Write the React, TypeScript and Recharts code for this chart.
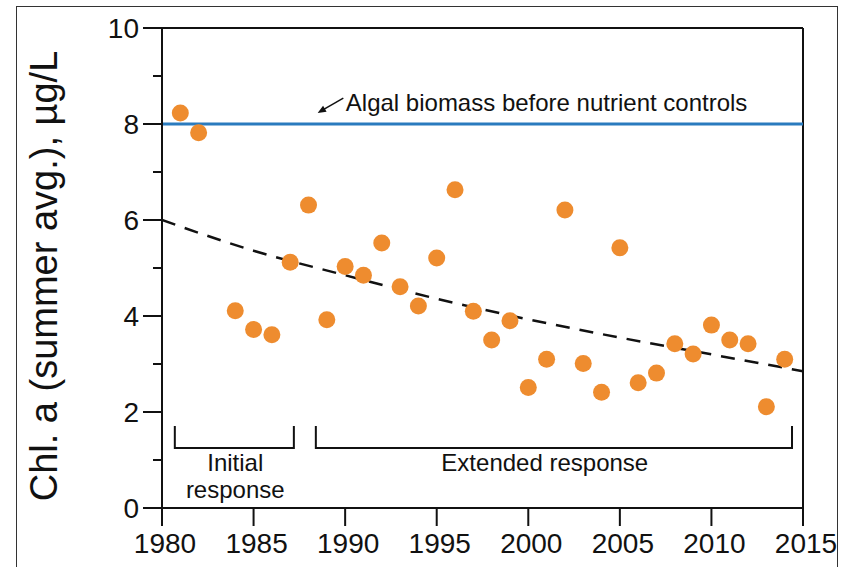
import {
  ComposedChart, Scatter, Line, XAxis, YAxis, ReferenceLine, ReferenceDot
} from 'recharts'

// summer average chlorophyll a
const years = [1981, 1982, 1984, 1985, 1986, 1987, 1988, 1989, 1990, 1991, 1992, 1993, 1994, 1995, 1996, 1997,
  1998, 1999, 2000, 2001, 2002, 2003, 2004, 2005, 2006, 2007, 2008, 2009, 2010, 2011, 2012, 2013, 2014]
const chl = [8.23, 7.82, 4.11, 3.72, 3.61, 5.12, 6.31, 3.92, 5.03, 4.85, 5.52, 4.61, 4.21, 5.21, 6.63, 4.1,
  3.5, 3.9, 2.51, 3.1, 6.21, 3.01, 2.41, 5.42, 2.61, 2.81, 3.42, 3.21, 3.81, 3.5, 3.42, 2.11, 3.1]

// trend curve (dashed)
const trendYears = [1980, 1985, 1990, 1995, 2000, 2005, 2010, 2015]
const trendVals = [6.0, 5.36, 4.85, 4.36, 3.93, 3.55, 3.2, 2.85]

const baseline = 8 // algal biomass before nutrient controls

const xTicks = [1980, 1985, 1990, 1995, 2000, 2005, 2010, 2015]
const yTicks = [0, 1, 2, 3, 4, 5, 6, 7, 8, 9, 10]

// brackets: [xStart, xEnd, yTop, yBottom]
const initialBracket = [1980.7, 1987.2, 1.71, 1.25]
const extendedBracket = [1988.4, 2014.4, 1.71, 1.25]

const points = years.map((y, i) => ({ year: y, chl: chl[i] }))
const trend = trendYears.map((y, i) => ({ year: y, chl: trendVals[i] }))
const bracketData = (b: number[]) => [
  { year: b[0], chl: b[2] }, { year: b[0], chl: b[3] },
  { year: b[1], chl: b[3] }, { year: b[1], chl: b[2] }
]

const FONT = 'Arial, "Liberation Sans", sans-serif'
const ORANGE = '#EE8C2F'
const BLUE = '#2A7BBE'

function YTick({ x, y, payload }: any) {
  const major = payload.value % 2 === 0
  return (
    <g>
      <line x1={x - (major ? 19 : 9)} x2={x} y1={y} y2={y} stroke="#111" strokeWidth={2} />
      {major && (
        <text x={x - 23} y={y} dy={10} textAnchor="end" fontSize={28} fontFamily={FONT} fill="#111">
          {payload.value}
        </text>
      )}
    </g>
  )
}

function XTick({ x, y, payload }: any) {
  return (
    <g>
      <line x1={x} x2={x} y1={y} y2={y + 18} stroke="#111" strokeWidth={2} />
      <text x={x + 3} y={y + 45} textAnchor="middle" fontSize={28} fontFamily={FONT} fill="#111">
        {payload.value}
      </text>
    </g>
  )
}

function Dot({ cx, cy }: any) {
  return <circle cx={cx} cy={cy} r={8.5} fill={ORANGE} />
}

function Arrow(p: any) {
  const { x1, y1, x2, y2 } = p
  const a = Math.atan2(y2 - y1, x2 - x1)
  const l = 9, w = 0.4
  const pts = [
    [x2, y2],
    [x2 - l * Math.cos(a - w), y2 - l * Math.sin(a - w)],
    [x2 - l * Math.cos(a + w), y2 - l * Math.sin(a + w)]
  ].map((q) => q.join(',')).join(' ')
  return (
    <g>
      <line x1={x1} y1={y1} x2={x2 - 5 * Math.cos(a)} y2={y2 - 5 * Math.sin(a)} stroke="#111" strokeWidth={1.5} />
      <polygon points={pts} fill="#111" />
    </g>
  )
}

const label = (text: string, size: number) => (p: any) => (
  <text x={p.cx} y={p.cy} dy={size * 0.36} textAnchor="middle" fontSize={size} fontFamily={FONT} fill="#111">
    {text}
  </text>
)

function YLabel(p: any) {
  const vb = p.viewBox
  const cx = vb.x + 31
  const cy = vb.y + vb.height / 2 + 8
  return (
    <text x={cx} y={cy} dy={13.5} transform={`rotate(-90 ${cx} ${cy})`} textAnchor="middle"
      fontSize={38} fontFamily={FONT} fill="#111">
      Chl. a (summer avg.), µg/L
    </text>
  )
}

export default function App() {
  return (
    <div style={{ position: 'absolute', left: 0, top: 0, width: 844, height: 567, overflow: 'hidden', background: '#fff' }}>
      <div style={{ position: 'absolute', left: 16, top: 6, width: 820, height: 600, border: '1.5px solid #333' }} />
      <div style={{ position: 'absolute', left: 0, top: 0 }}>
        <ComposedChart width={844} height={567} margin={{ top: 28, right: 41, bottom: 19, left: 12 }}>
          <XAxis
            dataKey="year" type="number" domain={[1980, 2015]} ticks={xTicks} allowDataOverflow
            height={40} tickSize={0} tickMargin={0} tick={<XTick />}
            axisLine={{ stroke: '#111', strokeWidth: 2 }} tickLine={false}
          />
          <YAxis
            type="number" domain={[0, 10]} ticks={yTicks} interval={0} allowDataOverflow
            width={150} tickSize={0} tickMargin={0} tick={<YTick />}
            axisLine={{ stroke: '#111', strokeWidth: 2 }} tickLine={false}
            label={{ content: <YLabel /> }}
          />
          <ReferenceLine y={10} stroke="#111" strokeWidth={2} />
          <ReferenceLine x={2015} stroke="#111" strokeWidth={2} />
          <ReferenceLine y={baseline} stroke={BLUE} strokeWidth={3} />
          <ReferenceLine
            segment={[{ x: 1989.9, y: 8.54 }, { x: 1988.5, y: 8.23 }]}
            shape={<Arrow />}
          />
          <ReferenceDot x={2001} y={8.46} r={0} shape={label('Algal biomass before nutrient controls', 24)} />
          <ReferenceDot x={1984} y={0.96} r={0} shape={label('Initial', 24)} />
          <ReferenceDot x={1984} y={0.38} r={0} shape={label('response', 24)} />
          <ReferenceDot x={2000.9} y={0.96} r={0} shape={label('Extended response', 24)} />
          <Line data={bracketData(initialBracket)} dataKey="chl" type="linear" stroke="#111" strokeWidth={2}
            dot={false} isAnimationActive={false} />
          <Line data={bracketData(extendedBracket)} dataKey="chl" type="linear" stroke="#111" strokeWidth={2}
            dot={false} isAnimationActive={false} />
          <Line data={trend} dataKey="chl" type="monotone" stroke="#111" strokeWidth={2.5}
            strokeDasharray="14 10" dot={false} isAnimationActive={false} />
          <Scatter data={points} dataKey="chl" shape={<Dot />} isAnimationActive={false} />
        </ComposedChart>
      </div>
    </div>
  )
}
